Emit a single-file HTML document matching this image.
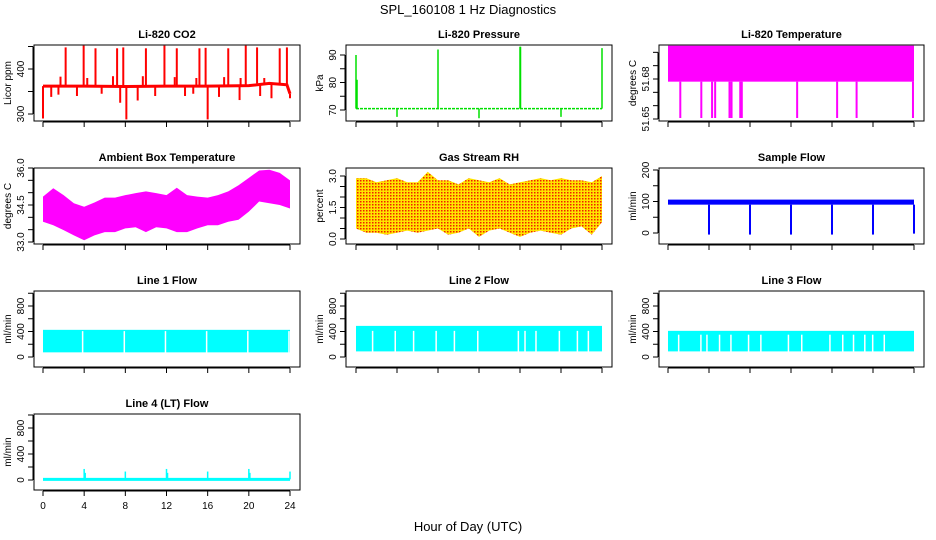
<!DOCTYPE html>
<html><head><meta charset="utf-8"><style>
body{margin:0;background:#fff}
svg{display:block;font-family:"Liberation Sans",sans-serif}
</style></head><body>
<svg id="c" width="936" height="540" viewBox="0 0 936 540" xmlns="http://www.w3.org/2000/svg">
<text x="468" y="14" text-anchor="middle" font-size="13">SPL_160108  1 Hz Diagnostics</text>
<text x="468" y="531" text-anchor="middle" font-size="13">Hour of Day (UTC)</text>
</svg>
<script>
// ---- data arrays ----
const xTicks=[0,4,8,12,16,20,24];
const co2BaseHours=[0,4,8,12,16,20,22,23.7,24];
const co2BaseVals=[362,362,361,362,362,363,368,365,345];
const co2SpikeHours=[2.2,3.95,5.1,7.2,7.8,10,11.8,13,15.2,15.8,18,19.7,20.8,23,23.7,1.7,4.3,6.8,9.7,12.8,14.9,17.6,19.2,21.5,0,8.1,16,0.8,1.5,3.3,5.7,7.5,9.2,10.9,13.8,14.6,17.1,19.1,21.1,22.2,24];
const co2SpikeVals=[448,452,446,446,448,446,452,446,446,447,446,452,448,446,448,383,380,384,384,382,380,382,380,380,290,288,288,338,343,340,345,325,330,340,340,345,338,331,340,335,335];
const presSpikeHours=[0,0.1,4,8,12,16,16.05,20,24];
const presSpikeVals=[90,81,67.5,92,67,93,93,67.5,92.5];
const presBase=70.5;
const tempTop=51.705, tempLow=51.678;
const tempDropHours=[1.2,3.25,4.3,4.6,6,6.2,7.05,7.2,12.6,16.5,18.4,23.9];
const tempDropVals=[51.65,51.65,51.65,51.65,51.65,51.65,51.65,51.65,51.65,51.65,51.65,51.65];
const hours=[0,1,2,3,4,5,6,7,8,9,10,11,12,13,14,15,16,17,18,19,20,21,22,23,24];
const ambUpper=[34.84,35.18,34.9,34.57,34.43,34.6,34.8,34.8,34.9,34.98,35.05,34.98,34.9,35.2,34.9,34.84,34.8,34.9,35.05,35.3,35.6,35.9,35.93,35.8,35.5];
const ambLower=[33.82,33.68,33.48,33.27,33.07,33.27,33.4,33.4,33.55,33.6,33.4,33.6,33.55,33.4,33.4,33.55,33.68,33.68,33.82,33.9,34.23,34.64,34.57,34.5,34.36];
const rhUpper=[2.9,2.9,2.7,2.8,2.9,2.7,2.7,3.2,2.8,2.8,2.6,2.9,2.8,2.7,2.9,2.6,2.7,2.8,2.9,2.8,2.9,2.8,2.8,2.7,3.0];
const rhLower=[0.5,0.3,0.3,0.2,0.3,0.4,0.3,0.4,0.5,0.2,0.3,0.5,0.1,0.4,0.5,0.3,0.1,0.3,0.4,0.3,0.2,0.5,0.6,0.2,0.8];
const sfTop=106, sfLow=90;
const sfDropHours=[4,8,12,16,20,24];
const sfDropVals=[-5,-5,-5,-5,-5,-2];
const l1Top=426, l1Low=73;
const l1GapHours=[3.85,7.9,11.9,15.9,19.9,23.9];
const l2Top=488, l2Low=88, l2GapTop=410;
const l2GapHours=[1.62,3.83,5.62,7.82,9.6,11.88,15.84,16.49,17.56,19.84,21.6,22.67];
const l3Top=410, l3Low=88, l3GapTop=350;
const l3GapHours=[1.04,3.21,3.8,5.03,6.14,7.86,9.06,11.75,13.05,15.8,17.05,18.1,19.2,19.97,21.1];
const l4Base=10;
const l4SpikeHours=[4,4.1,8,12,12.1,16,20,20.1,24];
const l4SpikeVals=[170,110,130,170,110,130,170,110,130];

const NS="http://www.w3.org/2000/svg";
const svg=document.getElementById('c');
function el(t,a,p){const e=document.createElementNS(NS,t);for(const k in a)e.setAttribute(k,a[k]);(p||svg).appendChild(e);return e;}
const cols=[{bl:34,br:300,x0:43,x1:290},{bl:346,br:612,x0:356,x1:602},{bl:659,br:924,x0:668,x1:914}];
const rows=[{t:45,b:121},{t:168,b:244},{t:291,b:367},{t:414,b:490}];

function panel(name,ci,ri,title,ylab,v1,p1,v2,p2,ticks,labels){
  const c=cols[ci],r=rows[ri];
  const g=el('g',{});
  
  
  const X=h=>c.x0+(c.x1-c.x0)*h/24;
  const Y=v=>p1+(v-v1)*(p2-p1)/(v2-v1);
  const clipId='clip-'+name;
  const cp=el('clipPath',{id:clipId},g);el('rect',{x:c.bl,y:r.t,width:c.br-c.bl,height:r.b-r.t},cp);
  const plot=el('g',{'clip-path':'url(#'+clipId+')'},g);
  const box=el('rect',{x:c.bl,y:r.t,width:c.br-c.bl,height:r.b-r.t,fill:'none',stroke:'#000','stroke-width':1},g);
  
  
  const t=el('text',{x:(c.bl+c.br)/2,y:r.t-7,'text-anchor':'middle','font-size':11,'font-weight':'bold'},g);
  t.textContent=title;
  
  
  const xa=el('g',{},g);
  
  
  el('line',{x1:X(0),x2:X(24),y1:r.b+1,y2:r.b+1,stroke:'#000'},xa);
  xTicks.forEach(h=>{el('line',{x1:X(h),x2:X(h),y1:r.b+1,y2:r.b+6,stroke:'#000'},xa);
    if(ri===3){const l=el('text',{x:X(h),y:r.b+19,'text-anchor':'middle','font-size':10},xa);l.textContent=h;}});
  const ya=el('g',{},g);
  
  
  const ax=c.bl-1;
  el('line',{x1:ax,x2:ax,y1:Y(ticks[0]),y2:Y(ticks[ticks.length-1]),stroke:'#000'},ya);
  ticks.forEach(v=>el('line',{x1:ax-5,x2:ax,y1:Y(v),y2:Y(v),stroke:'#000'},ya));
  labels.forEach(v=>{const l=el('text',{transform:`translate(${ax-9},${Y(v)}) rotate(-90)`,'text-anchor':'middle','font-size':10},ya);l.textContent=typeof v==='number'&&ticks[1]-ticks[0]<1?v.toFixed(ticks[1]-ticks[0]<0.1?2:1):v;});
  const yl=el('text',{transform:`translate(${c.bl-23},${(r.t+r.b)/2}) rotate(-90)`,'text-anchor':'middle','font-size':10},ya);
  yl.textContent=ylab;
  
  
  return {X,Y,plot};
}
function vline(p,x,y1,y2,col,w){return el('line',{x1:x,x2:x,y1:y1,y2:y2,stroke:col,'stroke-width':w||1},p);}
function band(p,X,Y,hs,up,lo,fill){
  let d='M'+hs.map((h,i)=>X(h)+','+Y(up[i])).join('L');
  for(let i=hs.length-1;i>=0;i--)d+='L'+X(hs[i])+','+Y(lo[i]);
  return el('path',{d:d+'Z',fill:fill},p);
}

{const P=panel('co2',0,0,'Li-820 CO2','Licor ppm',300,114,400,69,[300,350,400,450],[300,400]);
 const s=el('g',{},P.plot);
 co2SpikeHours.forEach((h,i)=>{const b=co2BaseVals[Math.min(co2BaseVals.length-1,co2BaseHours.findIndex(x=>x>=h))];vline(s,P.X(h),P.Y(b),P.Y(co2SpikeVals[i]),'#f00',2);});
 el('polyline',{points:co2BaseHours.map((h,i)=>P.X(h)+','+P.Y(co2BaseVals[i])).join(' '),fill:'none',stroke:'#f00','stroke-width':3},s);}
{const P=panel('pressure',1,0,'Li-820 Pressure','kPa',70,110,90,55,[70,75,80,85,90],[70,80,90]);
 const s=el('g',{},P.plot);
 el('line',{x1:P.X(0),x2:P.X(24),y1:P.Y(presBase),y2:P.Y(presBase),stroke:'#00e000','stroke-width':1.5,'stroke-dasharray':'3,1'},s);
 presSpikeHours.forEach((h,i)=>vline(s,P.X(h),P.Y(presBase),P.Y(presSpikeVals[i]),'#00e000',1.5));}
{const P=panel('li820-temp',2,0,'Li-820 Temperature','degrees C',51.65,119,51.68,79,[51.65,51.66,51.67,51.68,51.69,51.70],[51.65,51.68]);
 const s=el('g',{},P.plot);
 el('rect',{x:P.X(0),y:P.Y(tempTop),width:P.X(24)-P.X(0),height:P.Y(tempLow)-P.Y(tempTop),fill:'#f0f'},s);
 tempDropHours.forEach((h,i)=>vline(s,P.X(h),P.Y(tempLow),P.Y(tempDropVals[i])-1,'#f0f',2));}
{const P=panel('ambient-temp',0,1,'Ambient Box Temperature','degrees C',33,242,36,168,[33,33.5,34,34.5,35,35.5,36],[33.0,34.5,36.0]);
 const s=band(P.plot,P.X,P.Y,hours,ambUpper,ambLower,'#f0f');}
{const P=panel('rh',1,1,'Gas Stream RH','percent',0,239,3,176,[0,0.5,1,1.5,2,2.5,3],[0.0,1.5,3.0]);
 const pat=el('pattern',{id:'rhpat',width:3,height:3,patternUnits:'userSpaceOnUse'},svg);
 el('rect',{width:3,height:3,fill:'#ffe400'},pat);el('rect',{width:1.5,height:1.5,fill:'#f02000'},pat);
 const s=band(P.plot,P.X,P.Y,hours,rhUpper,rhLower,'url(#rhpat)');}
{const P=panel('sample-flow',2,1,'Sample Flow','ml/min',0,233,200,170,[0,50,100,150,200],[0,100,200]);
 const s=el('g',{},P.plot);
 el('rect',{x:P.X(0),y:P.Y(sfTop),width:P.X(24)-P.X(0),height:P.Y(sfLow)-P.Y(sfTop),fill:'#00f'},s);
 sfDropHours.forEach((h,i)=>vline(s,P.X(h),P.Y(sfLow),P.Y(sfDropVals[i]),'#00f',2));}
function flowPanel(name,ci,ri,title,top,low,gaps,gapTop){
  const y0=ri===3?480:357,y8=ri===3?428:306;
  const P=panel(name,ci,ri,title,'ml/min',0,y0,800,y8,[0,200,400,600,800,1000],[0,400,800]);
  const s=el('g',{},P.plot);
  el('rect',{x:P.X(0),y:P.Y(top),width:P.X(24)-P.X(0),height:P.Y(low)-P.Y(top),fill:'#0ff'},s);
  gaps.forEach(h=>vline(s,P.X(h),P.Y(gapTop),P.Y(low)+1,'#fff',1.5));
}
flowPanel('line1-flow',0,2,'Line 1 Flow',l1Top,l1Low,l1GapHours,l1Top-20);
flowPanel('line2-flow',1,2,'Line 2 Flow',l2Top,l2Low,l2GapHours,l2GapTop);
flowPanel('line3-flow',2,2,'Line 3 Flow',l3Top,l3Low,l3GapHours,l3GapTop);
{const P=panel('line4-flow',0,3,'Line 4 (LT) Flow','ml/min',0,480,800,428,[0,200,400,600,800,1000],[0,400,800]);
 const s=el('g',{},P.plot);
 el('line',{x1:P.X(0),x2:P.X(24),y1:P.Y(l4Base),y2:P.Y(l4Base),stroke:'#0ff','stroke-width':3},s);
 l4SpikeHours.forEach((h,i)=>vline(s,P.X(h),P.Y(l4Base),P.Y(l4SpikeVals[i]),'#0ff',1.5));}
</script>
</body></html>
